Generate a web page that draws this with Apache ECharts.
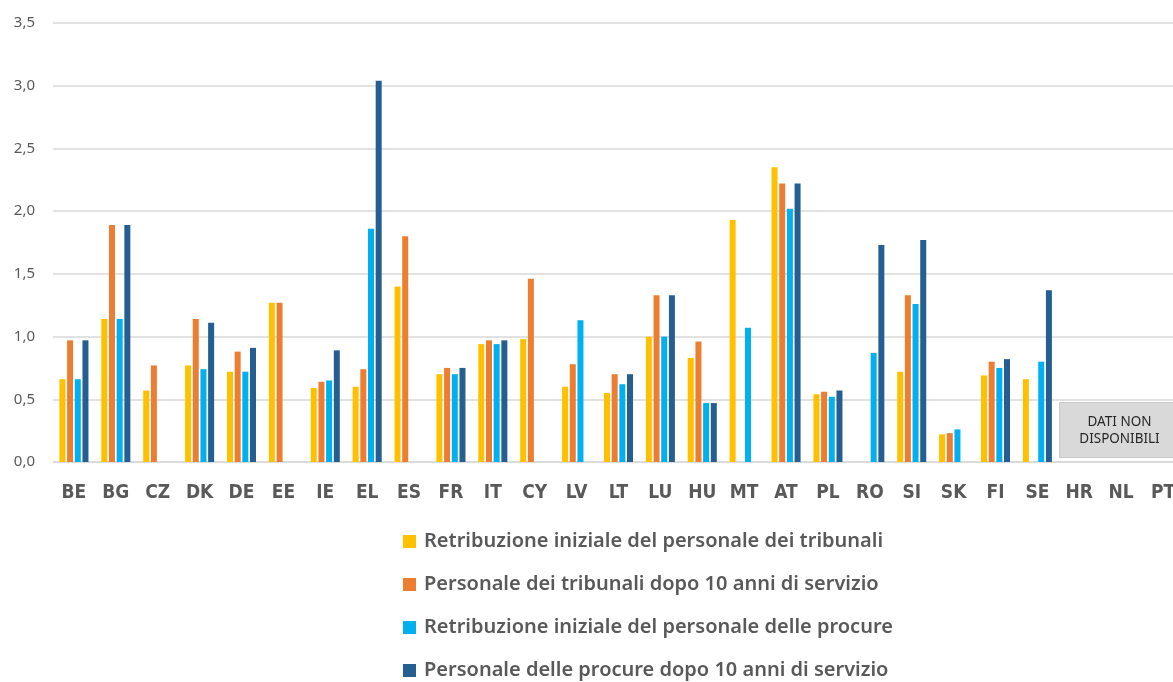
<!DOCTYPE html>
<html>
<head>
<meta charset="utf-8">
<script src="https://cdn.jsdelivr.net/npm/echarts@6/dist/echarts.min.js"></script>
<style>
  html, body { margin: 0; padding: 0; background: #fff; overflow: hidden; }
  #chart { width: 1200px; height: 720px; }
</style>
</head>
<body>
<div id="chart"></div>
<script>
const countries = ['BE', 'BG', 'CZ', 'DK', 'DE', 'EE', 'IE', 'EL', 'ES', 'FR', 'IT', 'CY', 'LV', 'LT',
  'LU', 'HU', 'MT', 'AT', 'PL', 'RO', 'SI', 'SK', 'FI', 'SE', 'HR', 'NL', 'PT']

// '-' = no bar
const tribunaliIniziale = [0.66, 1.14, 0.57, 0.77, 0.72, 1.27, 0.59, 0.60, 1.40, 0.70, 0.94, 0.98, 0.60, 0.55,
  1.00, 0.83, 1.93, 2.35, 0.54, '-', 0.72, 0.22, 0.69, 0.66, '-', '-', '-']
const tribunali10 = [0.97, 1.89, 0.77, 1.14, 0.88, 1.27, 0.64, 0.74, 1.80, 0.75, 0.97, 1.46, 0.78, 0.70,
  1.33, 0.96, '-', 2.22, 0.56, '-', 1.33, 0.23, 0.80, '-', '-', '-', '-']
const procureIniziale = [0.66, 1.14, '-', 0.74, 0.72, '-', 0.65, 1.86, '-', 0.70, 0.94, '-', 1.13, 0.62,
  1.00, 0.47, 1.07, 2.02, 0.52, 0.87, 1.26, 0.26, 0.75, 0.80, '-', '-', '-']
const procure10 = [0.97, 1.89, '-', 1.11, 0.91, '-', 0.89, 3.04, '-', 0.75, 0.97, '-', '-', 0.70,
  1.33, 0.47, '-', 2.22, 0.57, 1.73, 1.77, '-', 0.82, 1.37, '-', '-', '-']

const seriesNames = [
  'Retribuzione iniziale del personale dei tribunali',
  'Personale dei tribunali dopo 10 anni di servizio',
  'Retribuzione iniziale del personale delle procure',
  'Personale delle procure dopo 10 anni di servizio'
]
const seriesData = [tribunaliIniziale, tribunali10, procureIniziale, procure10]
const colors = ['#FFC000', '#ED7D31', '#00B0F0', '#255E91']

const chart = echarts.init(document.getElementById('chart'))

const series = seriesNames.map((name, i) => ({
  name: name,
  type: 'bar',
  data: seriesData[i],
  barWidth: 6,
  barGap: '28%',
  itemStyle: { color: colors[i] },
  emphasis: { disabled: true }
}))

chart.setOption({
  animation: false,
  grid: { left: 53, right: 16, top: 23, bottom: 258 },
  xAxis: {
    type: 'category',
    data: countries,
    axisLine: { lineStyle: { color: '#d9d9d9', width: 1.5 } },
    axisTick: { length: 7, lineStyle: { color: '#d9d9d9', width: 1.5 } },
    axisLabel: {
      margin: 22,
      color: '#595959',
      fontFamily: 'DejaVu Sans Condensed',
      fontWeight: 'bold',
      fontSize: 19
    }
  },
  yAxis: {
    type: 'value',
    min: 0,
    max: 3.5,
    interval: 0.5,
    axisLine: { show: false },
    axisTick: { show: false },
    splitLine: { lineStyle: { color: '#d9d9d9', width: 1.5 } },
    axisLabel: {
      margin: 18,
      color: '#595959',
      fontFamily: 'Noto Sans',
      fontSize: 15,
      formatter: v => v.toFixed(1).replace('.', ',')
    }
  },
  legend: {
    orient: 'vertical',
    left: 403,
    top: 531,
    padding: 0,
    itemWidth: 13,
    itemHeight: 13,
    itemGap: 22,
    icon: 'rect',
    selectedMode: false,
    textStyle: {
      color: '#595959',
      fontFamily: 'Noto Sans',
      fontWeight: 600,
      fontSize: 20,
      lineHeight: 21,
      padding: [0, 0, 0, 3]
    },
    data: seriesNames
  },
  graphic: [
    {
      type: 'group',
      left: 1059,
      top: 402,
      children: [
        {
          type: 'rect',
          shape: { x: 0, y: 0, width: 125, height: 55 },
          style: { fill: '#d9d9d9', stroke: '#a6a6a6', lineWidth: 1, lineDash: [1, 1] }
        },
        {
          type: 'text',
          x: 60,
          y: 28,
          style: {
            text: 'DATI NON\nDISPONIBILI',
            align: 'center',
            verticalAlign: 'middle',
            fill: '#262626',
            font: '13.5px "Noto Sans"',
            lineHeight: 17
          }
        }
      ]
    }
  ],
  series: series
})
</script>
</body>
</html>
